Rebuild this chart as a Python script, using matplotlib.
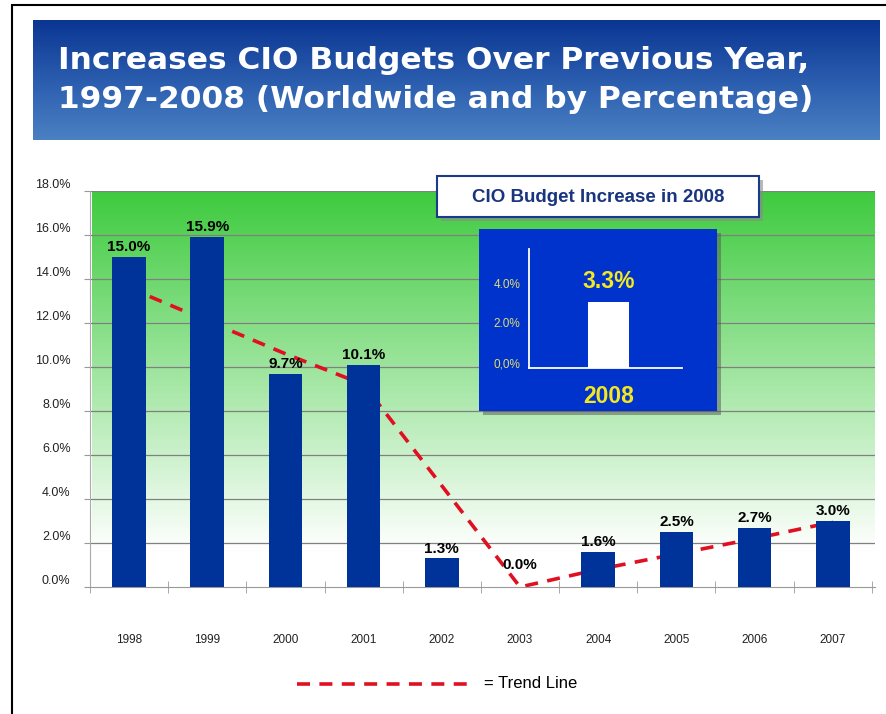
import matplotlib.pyplot as plt
import numpy as np
from matplotlib.patches import Rectangle
from matplotlib.colors import LinearSegmentedColormap
from matplotlib.transforms import ScaledTranslation

years = ['1998', '1999', '2000', '2001', '2002', '2003', '2004', '2005', '2006', '2007']
increase = [15.0, 15.9, 9.7, 10.1, 1.3, 0.0, 1.6, 2.5, 2.7, 3.0]
trend = [13.6, 12.1, 10.6, 9.2, 4.6, 0.0, 0.8, 1.5, 2.2, 2.95]
yticks = [0, 2, 4, 6, 8, 10, 12, 14, 16, 18]

inset_year = '2008'
inset_value = 3.3
inset_ticks = [0, 2, 4]
inset_ticklabels = ['0,0%', '2.0%', '4.0%']

plt.rcParams['font.family'] = ['Liberation Sans', 'DejaVu Sans']

W, H = 887, 714
fig = plt.figure(figsize=(W / 100, H / 100), dpi=100)


def fbox(x0, y0, x1, y1):
    # pixel box (top-left origin) -> figure fraction rect
    return [x0 / W, 1 - y1 / H, (x1 - x0) / W, (y1 - y0) / H]


def lift(labels, px):
    # labels in the original sit a few pixels above their gridlines
    for lab in labels:
        lab.set_transform(lab.get_transform() + ScaledTranslation(0, px / 100, fig.dpi_scale_trans))


# outer frame
fig.patches.append(Rectangle((12 / W, -0.05), 1.2, 1 - 5 / H + 0.05, transform=fig.transFigure,
                             fill=False, edgecolor='black', linewidth=1.5))

# title banner with vertical gradient
banner = fig.add_axes(fbox(33, 20, 880, 140))
banner.axis('off')
bcmap = LinearSegmentedColormap.from_list('banner', ['#0a3592', '#2a5cae', '#4a80c2'])
banner.imshow(np.linspace(0, 1, 100).reshape(-1, 1), aspect='auto', cmap=bcmap,
              extent=[0, 1, 0, 1])
banner.set_xlim(0, 1)
banner.set_ylim(0, 1)
banner.text(0.03, 0.5, 'Increases CIO Budgets Over Previous Year,\n1997-2008 (Worldwide and by Percentage)',
            color='white', fontsize=22.5, fontweight='bold', va='center', ha='left',
            linespacing=1.4, family='DejaVu Sans')

# main chart
ax = fig.add_axes(fbox(90, 191, 875, 587))
x = np.arange(len(years))
ax.set_xlim(-0.47, 9.54)
ax.set_ylim(0, 18)

gcmap = LinearSegmentedColormap.from_list('bg', [(0, 'white'), (0.09, 'white'), (1, '#3fcb3f')])
ax.imshow(np.linspace(1, 0, 200).reshape(-1, 1), aspect='auto', cmap=gcmap,
          extent=[-0.47, 9.54, 0, 18], zorder=0)

for t in yticks[1:]:
    ax.axhline(t, color='#808080', linewidth=0.9, zorder=1)

ax.plot(x, trend, color='#e01020', linewidth=2.6, linestyle=(0, (3.6, 2.6)), zorder=2)
ax.bar(x, increase, width=0.43, color='#003399', zorder=3)

for xi, v in zip(x, increase):
    ax.annotate(f'{v:.1f}%', (xi, max(v, 0.55)), xytext=(0, 2), textcoords='offset points',
                ha='center', va='bottom', fontsize=11, fontweight='bold', zorder=4)

ax.set_yticks(yticks)
ax.set_yticklabels([f'{t:.1f}%' for t in yticks], fontsize=9, color='#222222')
ax.set_xticks(x)
ax.set_xticklabels(years, fontsize=8.5, color='#222222')
ax.set_xticks(np.arange(-0.5, 9.6, 1), minor=True)
ax.tick_params(axis='x', which='major', length=0, pad=33.5)
ax.tick_params(axis='x', which='minor', length=8, direction='inout', color='#999999')
ax.tick_params(axis='y', length=4, color='#999999', pad=10)
lift(ax.get_yticklabels(), 7)
for s in ['top', 'right']:
    ax.spines[s].set_visible(False)
ax.spines['left'].set_color('#aaaaaa')
ax.spines['bottom'].set_color('#999999')

# inset title box
fig.patches.append(Rectangle((441 / W, 1 - 221 / H), 322 / W, 41 / H, transform=fig.transFigure,
                             facecolor='#8a8a8a', edgecolor='none', alpha=0.6, zorder=5))
fig.patches.append(Rectangle((437 / W, 1 - 217 / H), 322 / W, 41 / H, transform=fig.transFigure,
                             facecolor='white', edgecolor='#1a3a8a', linewidth=1.5, zorder=6))
fig.text(598 / W, 1 - 197 / H, 'CIO Budget Increase in 2008', ha='center', va='center',
         fontsize=13.5, fontweight='bold', color='#1a3580', zorder=7)

# inset blue panel
fig.patches.append(Rectangle((483 / W, 1 - 415 / H), 238 / W, 182 / H, transform=fig.transFigure,
                             facecolor='#555555', edgecolor='none', alpha=0.5, zorder=5))
fig.patches.append(Rectangle((479 / W, 1 - 411 / H), 238 / W, 182 / H, transform=fig.transFigure,
                             facecolor='#0033cc', edgecolor='none', zorder=6))

iax = fig.add_axes(fbox(529, 249, 682, 368))
iax.set_zorder(8)
iax.patch.set_visible(False)
iax.set_xlim(0, 1)
iax.set_ylim(0, 5.95)
iax.bar([0.52], [inset_value], width=0.27, color='white', zorder=3, clip_on=False)
iax.text(0.52, inset_value + 0.45, f'{inset_value:.1f}%', ha='center', va='bottom',
         fontsize=16.5, fontweight='bold', color='#f5e81e')
iax.set_yticks(inset_ticks)
iax.set_yticklabels(inset_ticklabels, fontsize=8.5, color='#e0dc70')
iax.set_xticks([0.52])
iax.set_xticklabels([inset_year], fontsize=16.5, fontweight='bold', color='#f5e81e')
iax.tick_params(axis='both', length=0)
iax.tick_params(axis='x', pad=12)
iax.tick_params(axis='y', pad=6)
lift(iax.get_yticklabels(), 5)
for s in ['top', 'right']:
    iax.spines[s].set_visible(False)
for s in ['left', 'bottom']:
    iax.spines[s].set_color('white')
    iax.spines[s].set_linewidth(1.3)

# legend
leg = fig.add_axes(fbox(290, 670, 620, 698))
leg.axis('off')
leg.set_xlim(290, 620)
leg.set_ylim(0, 1)
leg.plot([297, 472], [0.5, 0.5], color='#e01020', linewidth=2.6, linestyle=(0, (3.6, 2.6)))
leg.text(484, 0.5, '= Trend Line', va='center', ha='left', fontsize=12)

fig.savefig('out.png', dpi=100)
